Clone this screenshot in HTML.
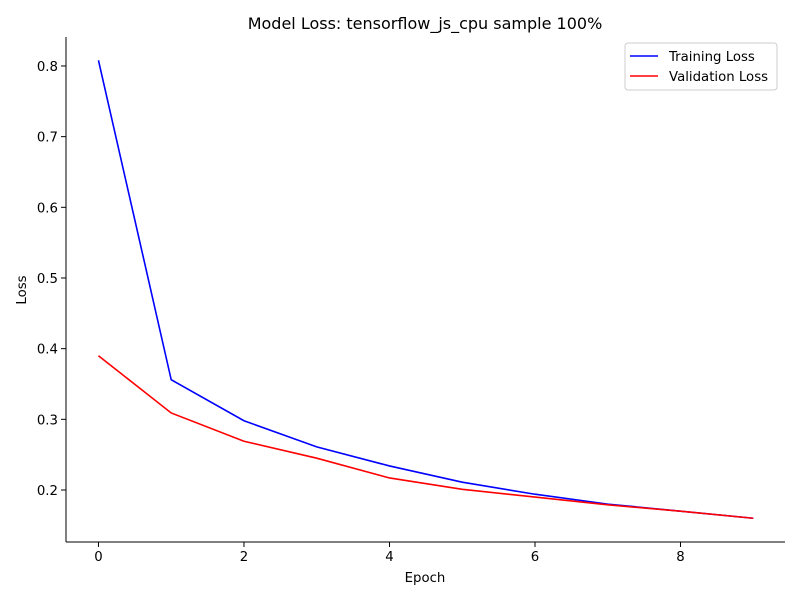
<!DOCTYPE html>
<html><head><meta charset="utf-8"><style>
body{margin:0;background:#fff;}
svg text{font-family:"DejaVu Sans","Liberation Sans",sans-serif;}
</style></head><body>
<svg id="chart" width="800" height="600" xmlns="http://www.w3.org/2000/svg">
<text x="425" y="29" font-size="16" text-anchor="middle">Model Loss: tensorflow_js_cpu sample 100%</text>
<g id="grid"></g>
<g id="series"></g>
<line x1="66" y1="37" x2="66" y2="542" stroke="#000" stroke-width="1"/>
<line x1="66" y1="542" x2="785" y2="542" stroke="#000" stroke-width="1"/>
<text x="425" y="582" font-size="13.3" text-anchor="middle">Epoch</text>
<text x="26" y="290" font-size="13.3" text-anchor="middle" transform="rotate(-90 26 290)">Loss</text>
<g>
<rect x="625" y="43" width="152" height="47" rx="3" fill="#fff" stroke="#ccc"/>
<line x1="630" y1="56" x2="658" y2="56" stroke="#0000ff" stroke-width="1.5"/>
<text x="669" y="61" font-size="13.3">Training Loss</text>
<line x1="630" y1="76" x2="658" y2="76" stroke="#ff0000" stroke-width="1.5"/>
<text x="669" y="81" font-size="13.3">Validation Loss</text>
</g>
</svg>
<script>
const epochs=[0,1,2,3,4,5,6,7,8,9];
const trainLoss=[0.808,0.356,0.298,0.261,0.234,0.211,0.194,0.180,0.170,0.160];
const valLoss=[0.390,0.309,0.269,0.245,0.217,0.201,0.190,0.179,0.170,0.160];
const xTicks=[0,2,4,6,8];
const yTicks=[0.2,0.3,0.4,0.5,0.6,0.7,0.8];
const NS="http://www.w3.org/2000/svg";
const X0=66,X1=785,Y0=542,Y1=37;
const xMin=-0.446,xMax=9.436,yMin=0.1264,yMax=0.841;
function sx(v){return X0+(v-xMin)/(xMax-xMin)*(X1-X0);}
function sy(v){return Y0-(v-yMin)/(yMax-yMin)*(Y0-Y1);}
const g=document.getElementById('grid');
function mk(tag,attrs,parent){const e=document.createElementNS(NS,tag);for(const k in attrs)e.setAttribute(k,attrs[k]);parent.appendChild(e);return e;}
xTicks.forEach(t=>{
  const l=mk('line',{x1:sx(t),x2:sx(t),y1:Y0,y2:Y0+5,stroke:'#000'},g);
  
  
  const tx=mk('text',{x:sx(t),y:Y0+19,'font-size':13.3,'text-anchor':'middle'},g);
  tx.textContent=t;
  
  
});
yTicks.forEach(t=>{
  const l=mk('line',{x1:X0-5,x2:X0,y1:sy(t),y2:sy(t),stroke:'#000'},g);
  
  
  const tx=mk('text',{x:X0-8,y:sy(t)+5,'font-size':13.3,'text-anchor':'end'},g);
  tx.textContent=t.toFixed(1);
  
  
});
const s=document.getElementById('series');
function line(vals,color,name){
  const p=mk('polyline',{points:epochs.map((e,i)=>sx(e)+','+sy(vals[i])).join(' '),fill:'none',stroke:color,'stroke-width':1.6},s);
  
  
}
line(trainLoss,'#0000ff','training-loss-line');
line(valLoss,'#ff0000','validation-loss-line');
</script>
</body></html>
